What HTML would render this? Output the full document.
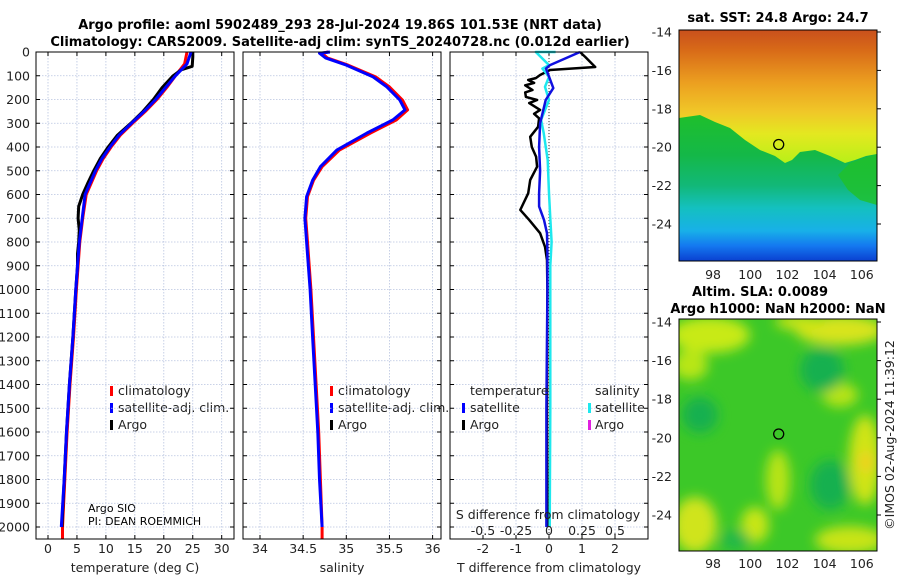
<!DOCTYPE html>
<html><head><meta charset="utf-8">
<style>
html,body{margin:0;padding:0;background:#fff;}
svg{display:block;font-family:"DejaVu Sans","Liberation Sans",sans-serif;}
.t{font-size:12.5px;fill:#222;}
.b{font-size:13px;font-weight:bold;fill:#000;}
.s{font-size:11px;fill:#000;}
</style></head>
<body>
<svg id="fig" width="900" height="580" viewBox="0 0 900 580" xmlns="http://www.w3.org/2000/svg">
<defs>
<linearGradient id="sstTop" x1="0" y1="0" x2="0" y2="1">
<stop offset="0" stop-color="#c9501c"/><stop offset="0.15" stop-color="#d86a18"/>
<stop offset="0.4" stop-color="#eca020"/><stop offset="0.62" stop-color="#f0c828"/><stop offset="0.78" stop-color="#e4e820"/><stop offset="1" stop-color="#b8f018"/>
</linearGradient>
<linearGradient id="sstBot" x1="0" y1="0" x2="0" y2="1">
<stop offset="0" stop-color="#20c028"/><stop offset="0.3" stop-color="#14b848"/>
<stop offset="0.5" stop-color="#12b878"/><stop offset="0.65" stop-color="#14c0c0"/>
<stop offset="0.8" stop-color="#18b0e8"/><stop offset="0.9" stop-color="#1478f0"/><stop offset="1" stop-color="#0a40d0"/>
</linearGradient>
<filter id="blur" x="-30%" y="-30%" width="160%" height="160%"><feGaussianBlur stdDeviation="6"/></filter>
<clipPath id="clipM1"><rect x="679" y="30" width="198" height="231"/></clipPath>
<clipPath id="clipM2"><rect x="679" y="319" width="198" height="232"/></clipPath>
</defs>

<text class="b" x="340" y="29" text-anchor="middle">Argo profile: aoml 5902489_293 28-Jul-2024 19.86S 101.53E (NRT data)</text>
<text class="b" x="340" y="46" text-anchor="middle">Climatology: CARS2009. Satellite-adj clim: synTS_20240728.nc (0.012d earlier)</text>

<!-- SST map -->
<g clip-path="url(#clipM1)">
<rect x="679" y="110" width="198" height="151" fill="url(#sstBot)"/>
<polygon fill="url(#sstTop)" points="679,30 877,30 877,154 866,156 855,160 845,163 830,156 815,150 800,152 792,160 785,163 775,156 760,150 745,140 730,128 715,122 700,115 679,118"/>
<polygon fill="#20c028" opacity="0.8" points="850,163 877,154 877,205 860,200 848,190 838,175"/>
</g>
<rect x="679" y="30" width="198" height="231" fill="none" stroke="#000" stroke-width="1"/>
<circle cx="778.7" cy="144.5" r="5" fill="none" stroke="#000" stroke-width="1.3"/>
<text class="b" x="778" y="22" text-anchor="middle">sat. SST: 24.8 Argo: 24.7</text>

<!-- SLA map -->
<g clip-path="url(#clipM2)">
<rect x="679" y="319" width="198" height="232" fill="#3cc828"/>
<g filter="url(#blur)">
<ellipse cx="710" cy="335" rx="40" ry="18" fill="#c8ea18"/>
<ellipse cx="690" cy="365" rx="18" ry="15" fill="#b8e618"/>
<ellipse cx="840" cy="330" rx="45" ry="15" fill="#d8e41a"/>
<ellipse cx="800" cy="322" rx="25" ry="8" fill="#c8e418"/>
<ellipse cx="865" cy="460" rx="16" ry="45" fill="#d0e418"/>
<ellipse cx="866" cy="462" rx="8" ry="10" fill="#f0d020"/>
<ellipse cx="840" cy="395" rx="18" ry="12" fill="#b8e418"/>
<ellipse cx="695" cy="525" rx="22" ry="28" fill="#d0e41a"/>
<ellipse cx="755" cy="525" rx="14" ry="18" fill="#c8e618"/>
<ellipse cx="778" cy="480" rx="12" ry="30" fill="#b8e418"/>
<ellipse cx="850" cy="540" rx="35" ry="14" fill="#c8e418"/>
<ellipse cx="822" cy="370" rx="22" ry="22" fill="#18b050"/>
<ellipse cx="700" cy="415" rx="18" ry="18" fill="#18b050"/>
<ellipse cx="830" cy="485" rx="20" ry="25" fill="#18b050"/>
<ellipse cx="735" cy="540" rx="15" ry="10" fill="#20b848"/>
</g>
</g>
<rect x="679" y="319" width="198" height="232" fill="none" stroke="#000" stroke-width="1"/>
<circle cx="778.7" cy="434" r="5" fill="none" stroke="#000" stroke-width="1.3"/>
<text class="b" x="760" y="296" text-anchor="middle">Altim. SLA: 0.0089</text>
<text class="b" x="778" y="313" text-anchor="middle">Argo h1000: NaN h2000: NaN</text>
<text class="t" transform="translate(894,435) rotate(-90)" text-anchor="middle">©IMOS 02-Aug-2024 11:39:12</text>

<!-- Legends and annotations -->
<g>
<rect x="110" y="386" width="3" height="10" fill="#f00"/><text class="t" x="118" y="395">climatology</text>
<rect x="110" y="403" width="3" height="10" fill="#00f"/><text class="t" x="118" y="412">satellite-adj. clim.</text>
<rect x="110" y="420" width="3" height="10" fill="#000"/><text class="t" x="118" y="429">Argo</text>
</g>
<g>
<rect x="330" y="386" width="3" height="10" fill="#f00"/><text class="t" x="338" y="395">climatology</text>
<rect x="330" y="403" width="3" height="10" fill="#00f"/><text class="t" x="338" y="412">satellite-adj. clim.</text>
<rect x="330" y="420" width="3" height="10" fill="#000"/><text class="t" x="338" y="429">Argo</text>
</g>
<text class="s" x="88" y="512">Argo SIO</text>
<text class="s" x="88" y="525">PI: DEAN ROEMMICH</text>
</svg>

<script>
const depthsT = [0,50,100,150,200,250,300,350,400,450,500,550,600,700,800,900,1000,1200,1400,1600,1800,2000,2050];
const climT = [24.0,23.6,22.0,20.5,18.8,16.8,14.6,12.5,10.9,9.5,8.4,7.5,6.6,6.0,5.5,5.2,4.9,4.4,3.8,3.3,2.9,2.5,2.5];
const satT = [24.7,24.0,22.0,20.3,18.6,16.6,14.4,12.3,10.7,9.3,8.2,7.3,6.4,5.9,5.4,5.1,4.8,4.3,3.7,3.2,2.8,2.3];
const argoDepths = [0,20,60,75,100,150,200,250,300,350,400,450,500,550,600,650,700,750,800,850,900,1000,1200,1400,1600,1800,2000];
const argoT = [25.0,25.0,24.9,23.0,21.6,19.7,18.2,16.4,14.3,12.0,10.4,9.0,7.9,6.9,6.0,5.3,5.2,5.4,5.3,5.1,5.1,4.8,4.3,3.7,3.2,2.8,2.4];
const depthsS = [0,5,25,55,105,147,202,244,286,341,413,483,540,609,700,800,1000,1200,1400,1600,1800,2000,2050];
const climS = [34.79,34.72,34.78,35.02,35.34,35.50,35.65,35.71,35.58,35.28,34.92,34.72,34.62,34.55,34.53,34.55,34.59,34.62,34.65,34.68,34.70,34.72,34.72];
const satS = [34.81,34.69,34.76,35.00,35.31,35.47,35.62,35.68,35.54,35.24,34.89,34.70,34.61,34.54,34.52,34.54,34.58,34.61,34.64,34.67,34.69,34.72];
const argoDiffDepths = [0,21,63,76,97,110,118,130,140,160,170,189,202,215,244,260,279,315,357,400,441,483,539,595,665,707,763,820,876,1000,1500,2000];
const argoTdiff = [0.94,1.1,1.4,0.03,-0.27,-0.4,-0.63,-0.45,-0.72,-0.5,-0.72,-0.7,-0.36,-0.6,-0.27,-0.45,-0.3,-0.33,-0.57,-0.52,-0.39,-0.36,-0.57,-0.63,-0.87,-0.6,-0.27,-0.12,-0.06,-0.05,-0.06,-0.05];
const satDiffDepths = [0,55,70,152,202,300,400,500,595,650,707,763,850,1000,1500,2000];
const satTdiff = [0.94,0.03,-0.09,0.13,-0.1,-0.27,-0.3,-0.27,-0.3,-0.3,-0.15,-0.06,-0.05,-0.05,-0.08,-0.08];
const satSdiffDepths = [0,0,55,70,105,147,202,286,341,455,595,700,800,900,1500,2000];
const satSdiff = [0.05,-0.1,0.0,-0.05,0.0,-0.03,0.0,-0.06,-0.04,-0.01,0.0,0.01,0.02,0.01,0.01,0.005];
const depthTicks = [0,100,200,300,400,500,600,700,800,900,1000,1100,1200,1300,1400,1500,1600,1700,1800,1900,2000];
const tTicks = [0,5,10,15,20,25,30];
const sTicks = [34,34.5,35,35.5,36];
const dTticks = [-2,-1,0,1,2];
const dSticks = [-0.5,-0.25,0,0.25,0.5];
const dStickLabels = ['-0.5','-0.25','0','0.25','0.5'];
const latTicks = [-14,-16,-18,-20,-22,-24];
const lonTicks = [98,100,102,104,106];

const NS='http://www.w3.org/2000/svg';
const svg=document.getElementById('fig');
const TOP=52, BOT=539;
const yD = d => TOP + d*0.2375;
const xT = t => 48 + t*5.79;
const xS = s => 260 + (s-34)*86.3;
const xDT = v => 549 + v*33;
const xDS = v => 549 + v*132;
const panels = [{x0:36,x1:234,name:'temperature'},{x0:243,x1:441,name:'salinity'},{x0:450,x1:648,name:'difference'}];

function mk(tag, attrs, parent){
  const el=document.createElementNS(NS,tag);
  for(const k in attrs) el.setAttribute(k,attrs[k]);
  (parent||svg).appendChild(el);
  return el;
}
function txt(x,y,s,anchor,cls){
  const el=mk('text',{x:x,y:y,'text-anchor':anchor||'middle','class':cls||'t'});
  el.textContent=s;
  return el;
}

panels.forEach((p,pi)=>{
  const g=mk('g',{});
  
  
  depthTicks.forEach(d=>{
    const l=mk('line',{x1:p.x0,x2:p.x1,y1:yD(d),y2:yD(d),stroke:'#b8c4e0','stroke-width':0.8,'stroke-dasharray':'1.5,1.5'},g);
    
    
    mk('line',{x1:p.x0,x2:p.x0+4,y1:yD(d),y2:yD(d),stroke:'#000'},g);
    mk('line',{x1:p.x1-4,x2:p.x1,y1:yD(d),y2:yD(d),stroke:'#000'},g);
  });
  let xs, xf;
  if(pi===0){xs=tTicks;xf=xT;} else if(pi===1){xs=sTicks;xf=xS;} else {xs=dTticks;xf=xDT;}
  xs.forEach(v=>{
    const l=mk('line',{x1:xf(v),x2:xf(v),y1:TOP,y2:BOT,stroke:'#b8c4e0','stroke-width':0.8,'stroke-dasharray':'1.5,1.5'},g);
    
    
    mk('line',{x1:xf(v),x2:xf(v),y1:BOT-4,y2:BOT,stroke:'#000'},g);
    mk('line',{x1:xf(v),x2:xf(v),y1:TOP,y2:TOP+4,stroke:'#000'},g);
    const t=txt(xf(v),553,String(v));
    
    
  });
});
depthTicks.forEach(d=>{
  const t=txt(30,yD(d)+4.5,String(d),'end');
  
  
});
let at=txt(135,572,'temperature (deg C)');


at=txt(342,572,'salinity');


at=txt(549,572,'T difference from climatology');



const zl=mk('line',{x1:xDT(0),x2:xDT(0),y1:TOP,y2:BOT,stroke:'#333','stroke-width':1,'stroke-dasharray':'1,2'});



function line(depths, vals, xf, color, w, name){
  const pts=vals.map((v,i)=>xf(v).toFixed(1)+','+yD(depths[i]).toFixed(1)).join(' ');
  const pl=mk('polyline',{points:pts,fill:'none',stroke:color,'stroke-width':w,'stroke-linejoin':'round'});
  
  
}
line(depthsT, climT, xT, '#f00', 3, 'climatology-temperature-line');
line(argoDepths, argoT, xT, '#000', 3, 'argo-temperature-line');
line(depthsT.slice(0,satT.length), satT, xT, '#00f', 3, 'satellite-temperature-line');
line(depthsS, climS, xS, '#f00', 3, 'climatology-salinity-line');
line(depthsS.slice(0,satS.length), satS, xS, '#00f', 3, 'satellite-salinity-line');
line(argoDiffDepths, argoTdiff, xDT, '#000', 2.5, 'argo-temperature-difference-line');
line(satSdiffDepths, satSdiff, xDS, '#1ee8ee', 2.5, 'satellite-salinity-difference-line');
line(satDiffDepths, satTdiff, xDT, '#1010e0', 2.5, 'satellite-temperature-difference-line');

panels.forEach(p=>{
  const r=mk('rect',{x:p.x0,y:TOP,width:p.x1-p.x0,height:BOT-TOP,fill:'none',stroke:'#000','stroke-width':1});
  
  
});

dSticks.forEach((v,i)=>{
  const t=txt(xDS(v),535,dStickLabels[i]);
  
  
});
at=txt(548,519,'S difference from climatology');



const lg=mk('g',{});


txt(470,395,'temperature','start');
mk('rect',{x:462,y:403,width:3,height:10,fill:'#00f'},lg);
txt(470,412,'satellite','start');
mk('rect',{x:462,y:420,width:3,height:10,fill:'#000'},lg);
txt(470,429,'Argo','start');
txt(595,395,'salinity','start');
mk('rect',{x:588,y:403,width:3,height:10,fill:'#1ee8ee'},lg);
txt(595,412,'satellite','start');
mk('rect',{x:588,y:420,width:3,height:10,fill:'#e020e0'},lg);
txt(595,429,'Argo','start');

const lonX = lon => 679 + (lon-96.17)*18.6;
[{top:32,step:19.2,xy:279,name:'sst'},{top:322,step:19.3,xy:568,name:'sla'}].forEach(m=>{
  latTicks.forEach((lat,i)=>{
    const y=m.top + (-14-lat)*m.step;
    const t=txt(672,y+4.5,String(lat),'end');
    
    
    mk('line',{x1:877,x2:881,y1:y,y2:y,stroke:'#000'});
  });
  lonTicks.forEach(lon=>{
    const t=txt(lonX(lon),m.xy,String(lon));
    
    
  });
});
</script>
</body></html>
